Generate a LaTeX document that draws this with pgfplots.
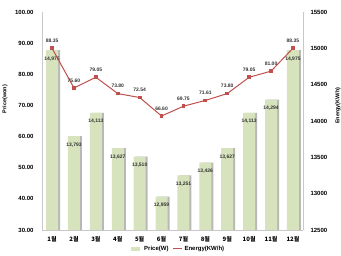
\documentclass[border=0pt]{standalone}
\usepackage{pgfplots}
\pgfplotsset{compat=1.18}
\usepackage{fontspec}
\setmainfont{Liberation Sans}
\newfontfamily\kr{Noto Sans CJK KR}
\definecolor{barg}{HTML}{D6E3BC}
\definecolor{shadowg}{HTML}{B8B8B8}
\definecolor{linered}{HTML}{C0504D}
\definecolor{axgray}{HTML}{C8C8C8}
\begin{document}
\begin{tikzpicture}[x=1pt,y=1pt]
\useasboundingbox (0,0) rectangle (341,256);
\pgfplotsset{
  common/.style={
    at={(42pt,26pt)}, anchor=south west,
    width=261pt, height=218pt, scale only axis,
    xmin=0.54, xmax=12.46,
    major tick length=0pt,
    axis line style={axgray, line width=0.8pt},
    tick label style={font=\fontsize{6}{7}\selectfont\bfseries},
    /pgf/number format/assume math mode=true,
    scaled y ticks=false,
  }
}
% bars on right axis
\begin{axis}[common,
  axis y line*=right, axis x line*=bottom,
  ymin=12500, ymax=15500, ytick={12500,13000,...,15500},
  yticklabel style={xshift=4pt, /pgf/number format/1000 sep={}, /pgf/number format/fixed, /pgf/number format/precision=0},
  xtick={1,...,12},
  xticklabels={1월,2월,3월,4월,5월,6월,7월,8월,9월,10월,11월,12월},
  xticklabel style={font=\kr\fontsize{6}{7}\selectfont\bfseries, yshift=-3pt},
  ylabel={Energy(KW/h)},
  ylabel style={at={(axis description cs:1.134,0.57)}, anchor=center, font=\fontsize{5.5}{6}\selectfont\bfseries},
]
\addplot[ybar, bar width=12pt, bar shift=2pt, fill=shadowg, draw=none] coordinates {
(1,14975) (2,13793) (3,14113) (4,13627) (5,13510) (6,12959) (7,13251) (8,13426) (9,13627) (10,14113) (11,14294) (12,14975)};
\addplot[ybar, bar width=12pt, bar shift=0pt, fill=barg, draw=none,
  nodes near coords,
  nodes near coords style={anchor=north, yshift=-3pt, font=\fontsize{5}{6}\selectfont\bfseries, text=black!80,
    /pgf/number format/1000 sep={,}, /pgf/number format/fixed, /pgf/number format/precision=0}
] coordinates {
(1,14975) (2,13793) (3,14113) (4,13627) (5,13510) (6,12959) (7,13251) (8,13426) (9,13627) (10,14113) (11,14294) (12,14975)};
\end{axis}
% line on left axis
\begin{axis}[common,
  axis y line*=left, axis x line*=bottom,
  ymin=30, ymax=100, ytick={30,40,...,100},
  yticklabel style={xshift=-5pt, /pgf/number format/fixed, /pgf/number format/fixed zerofill, /pgf/number format/precision=2},
  xtick=\empty,
  ylabel={Price(won)},
  ylabel style={at={(axis description cs:-0.142,0.6)}, anchor=center, font=\fontsize{5.5}{6}\selectfont\bfseries},
  legend style={at={(axis description cs:0.52,-0.087)}, anchor=center, draw=none, fill=none,
    font=\fontsize{6}{7}\selectfont\bfseries, legend columns=2,
    /tikz/every even column/.append style={column sep=2pt}},
  legend image code/.code={\draw[#1] (0pt,0pt) -- (9pt,0pt);},
]
\addlegendimage{barg, line width=4pt}
\addlegendentry{Price(W)}
\addplot[linered, line width=1pt, mark=square*, mark size=1.4pt, mark options={fill=linered},
  nodes near coords,
  nodes near coords style={anchor=south, yshift=2pt, font=\fontsize{5}{6}\selectfont\bfseries, text=black!80,
    /pgf/number format/fixed, /pgf/number format/fixed zerofill, /pgf/number format/precision=2}
] coordinates {
(1,88.35) (2,75.60) (3,79.05) (4,73.80) (5,72.54) (6,66.60) (7,69.75) (8,71.61) (9,73.80) (10,79.05) (11,81.00) (12,88.35)};
\addlegendentry{Energy(KW/h)}
\end{axis}
\end{tikzpicture}
\end{document}
